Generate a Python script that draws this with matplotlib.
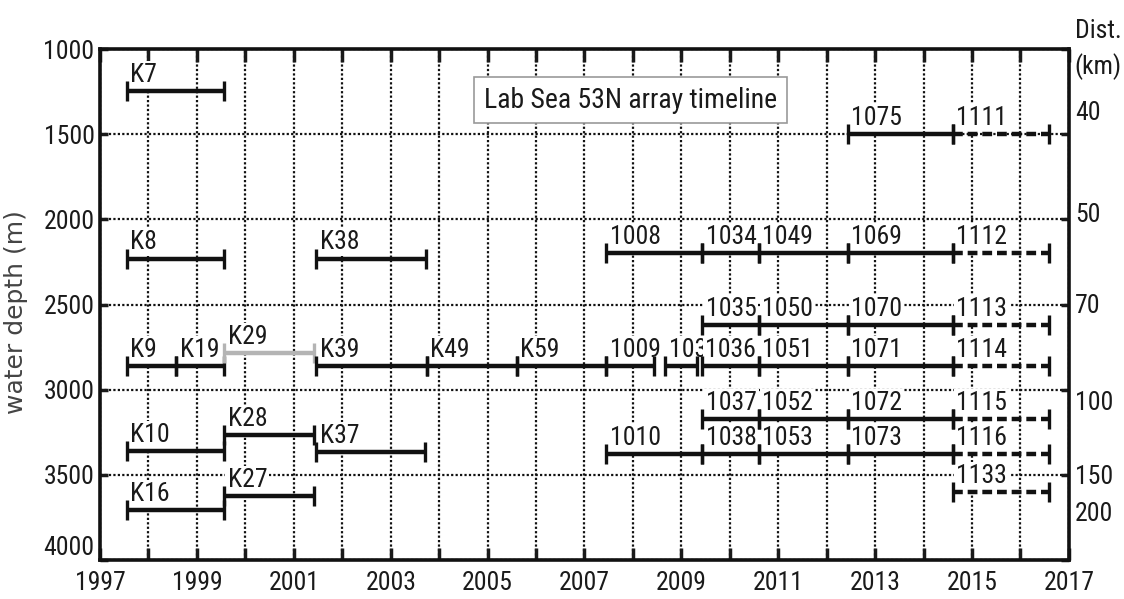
import matplotlib
matplotlib.use('Agg')
import matplotlib.pyplot as plt
from matplotlib.ticker import MultipleLocator, FuncFormatter

# ---------------- mooring deployments (years, depth in m) ----------------
names  = ['K7', 'K8', 'K38',
          'K9', 'K19', 'K29', 'K39', 'K49', 'K59', '1009', '103',
          'K10', 'K28', 'K37', 'K16', 'K27',
          '1075', '1111',
          '1008', '1034', '1049', '1069', '1112',
          '1035', '1050', '1070', '1113',
          '1036', '1051', '1071', '1114',
          '1037', '1052', '1072', '1115',
          '1010', '1038', '1053', '1073', '1116',
          '1133']
starts = [1997.55, 1997.55, 2001.46,
          1997.55, 1998.57, 1999.56, 2001.46, 2003.74, 2005.60, 2007.45, 2008.67,
          1997.55, 1999.56, 2001.46, 1997.55, 1999.56,
          2012.43, 2014.60,
          2007.45, 2009.43, 2010.60, 2012.43, 2014.60,
          2009.43, 2010.60, 2012.43, 2014.60,
          2009.42, 2010.60, 2012.43, 2014.60,
          2009.43, 2010.60, 2012.43, 2014.60,
          2007.45, 2009.43, 2010.60, 2012.43, 2014.60,
          2014.60]
ends   = [1999.56, 1999.56, 2003.73,
          1998.57, 1999.56, 2001.42, 2003.74, 2005.60, 2007.45, 2008.43, 2009.33,
          1999.56, 2001.42, 2003.71, 1999.56, 2001.42,
          2014.60, 2016.59,
          2009.43, 2010.60, 2012.43, 2014.60, 2016.59,
          2010.60, 2012.43, 2014.60, 2016.59,
          2010.60, 2012.43, 2014.60, 2016.59,
          2010.60, 2012.43, 2014.60, 2016.59,
          2009.43, 2010.60, 2012.43, 2014.60, 2016.59,
          2016.59]
depths = [1245, 2230, 2230,
          2860, 2860, 2785, 2860, 2860, 2860, 2860, 2860,
          3360, 3267, 3365, 3707, 3625,
          1500, 1500,
          2200, 2200, 2200, 2200, 2200,
          2620, 2620, 2620, 2620,
          2860, 2860, 2860, 2860,
          3173, 3173, 3173, 3173,
          3378, 3378, 3378, 3378, 3378,
          3601]
planned = ['1111', '1112', '1113', '1114', '1115', '1116', '1133']
lost = ['K29']

depth_ticks = [1000, 1500, 2000, 2500, 3000, 3500, 4000]

# distance along the line (right-hand labels)
dist_km = ['40', '50', '70', '100', '150', '200']
dist_depth = [1375, 1975, 2510, 3075, 3515, 3730]

plt.rcParams['font.family'] = ['Roboto Condensed', 'Liberation Sans', 'DejaVu Sans']
FS = 18.5

fig = plt.figure(figsize=(11.24, 5.99), dpi=100)
ax = fig.add_axes([0.089, 0.065, 0.862, 0.853])

ax.set_xlim(1997, 2017)
ax.set_ylim(4000, 1000)

ax.xaxis.set_major_locator(MultipleLocator(1))
ax.xaxis.set_major_formatter(FuncFormatter(lambda v, p: '%d' % v if int(round(v)) % 2 == 1 else ''))
ax.set_yticks(depth_ticks)
ax.set_yticklabels([str(t) for t in depth_ticks])
ax.get_yticklabels()[-1].set_va('bottom')
ax.tick_params(axis='both', direction='in', labelsize=FS, colors='#1a1a1a',
               top=True, right=True, width=2.5)
ax.tick_params(axis='x', length=9, pad=8)
ax.tick_params(axis='y', length=6, pad=4)
for s in ax.spines.values():
    s.set_linewidth(2.6)
    s.set_color('#111')

ax.grid(True, color='#111', linestyle=(0, (1, 1)), linewidth=1.6, zorder=0)
ax.set_axisbelow(True)

ax.set_ylabel('water depth (m)', fontsize=18, color='#444',
              family=['DejaVu Sans'])
ax.yaxis.set_label_coords(-0.074, 0.485)

for n, s, e, d in zip(names, starts, ends, depths):
    col = '#b4b4b4' if n in lost else '#111'
    ls = (0, (2.2, 1.1)) if n in planned else '-'
    ax.plot([s, e], [d, d], color=col, lw=3.2, ls=ls, solid_capstyle='butt', zorder=5)
    ax.plot([s, e], [d, d], ls='none', marker='|', markersize=14, mew=2.4,
            color=col, zorder=6)
    ax.annotate(n, (s, d), xytext=(2.5, 3.0), textcoords='offset points',
                ha='left', va='bottom', fontsize=FS, color='#1a1a1a', zorder=4,
                bbox=dict(boxstyle='square,pad=0.08', fc='white', ec='none'))

ax.text(2007.95, 1300, 'Lab Sea 53N array timeline', ha='center', va='center',
        fontsize=20, color='#1a1a1a', zorder=7,
        bbox=dict(boxstyle='square,pad=0.34', fc='white', ec='#999', lw=1.2))

# right side distance labels
ax.text(1.006, 1.035, 'Dist.', transform=ax.transAxes, ha='left', va='center',
        fontsize=FS, color='#1a1a1a')
ax.text(1.006, 0.965, '(km)', transform=ax.transAxes, ha='left', va='center',
        fontsize=FS, color='#1a1a1a')
for lab, dd in zip(dist_km, dist_depth):
    ax.text(2017.12, dd, lab, ha='left', va='center', fontsize=FS, color='#1a1a1a',
            clip_on=False)

fig.savefig('out.png', dpi=100)
